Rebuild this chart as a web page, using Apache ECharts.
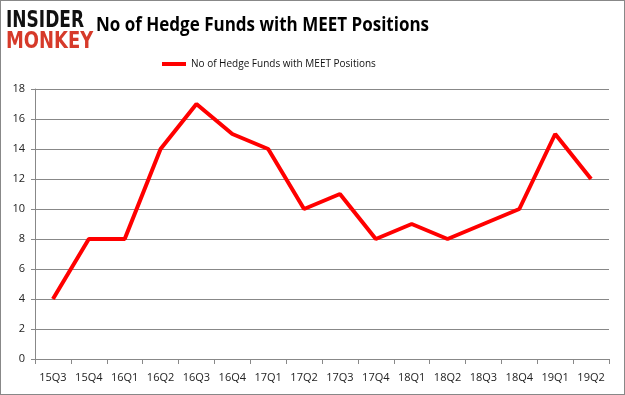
<!DOCTYPE html>
<html><head><meta charset="utf-8">
<script src="https://cdn.jsdelivr.net/npm/echarts@6/dist/echarts.min.js"></script>
<style>html,body{margin:0;padding:0;background:#fff}#c{width:625px;height:395px;box-sizing:border-box;border:1px solid #888}</style>
</head><body><div id="c"></div>
<script>
const categories = ['15Q3','15Q4','16Q1','16Q2','16Q3','16Q4','17Q1','17Q2','17Q3','17Q4','18Q1','18Q2','18Q3','18Q4','19Q1','19Q2'];
const seriesName = 'No of Hedge Funds with MEET Positions';
const titleText = 'No of Hedge Funds with MEET Positions';
const values = [4,8,8,14,17,15,14,10,11,8,9,8,9,10,15,12];
const chart = echarts.init(document.getElementById('c'), null, {renderer:'canvas'});
chart.setOption({
  animation:false,
  graphic:[
    {type:'text',x:5,y:9,scaleX:0.74,style:{text:'INSIDER',font:'900 23px "DejaVu Sans"',fill:'#111',verticalAlign:'top',align:'left'}},
    {type:'text',x:5,y:30,scaleX:0.78,style:{text:'MONKEY',font:'900 23px "DejaVu Sans"',fill:'#d63a2a',verticalAlign:'top',align:'left'}},
    {type:'text',x:95,y:14,scaleX:0.85,style:{text:titleText,font:'bold 20px "Open Sans"',fill:'#000',verticalAlign:'top',align:'left'}}
  ],
  legend:{top:53,left:156,itemWidth:24,itemHeight:4,icon:'rect',itemGap:3,
    textStyle:{fontFamily:'Open Sans',fontSize:10,color:'#111'},data:[seriesName]},
  grid:{left:34,right:15,top:88,bottom:35,containLabel:false},
  xAxis:{type:'category',data:categories,boundaryGap:true,
    axisLine:{lineStyle:{color:'#888'}},axisTick:{show:true,length:5,lineStyle:{color:'#888'}},
    axisLabel:{color:'#222',fontFamily:'Open Sans',fontSize:11,margin:13}},
  yAxis:{type:'value',min:0,max:18,interval:2,
    axisLine:{show:true,lineStyle:{color:'#888'}},axisTick:{show:true,length:4,lineStyle:{color:'#888'}},
    splitLine:{lineStyle:{color:'#888'}},
    axisLabel:{color:'#222',fontFamily:'Open Sans',fontSize:11,margin:10}},
  series:[{name:seriesName,type:'line',data:values,symbol:'none',lineStyle:{color:'#ff0000',width:4},itemStyle:{color:'#ff0000'}}]
});
</script></body></html>
